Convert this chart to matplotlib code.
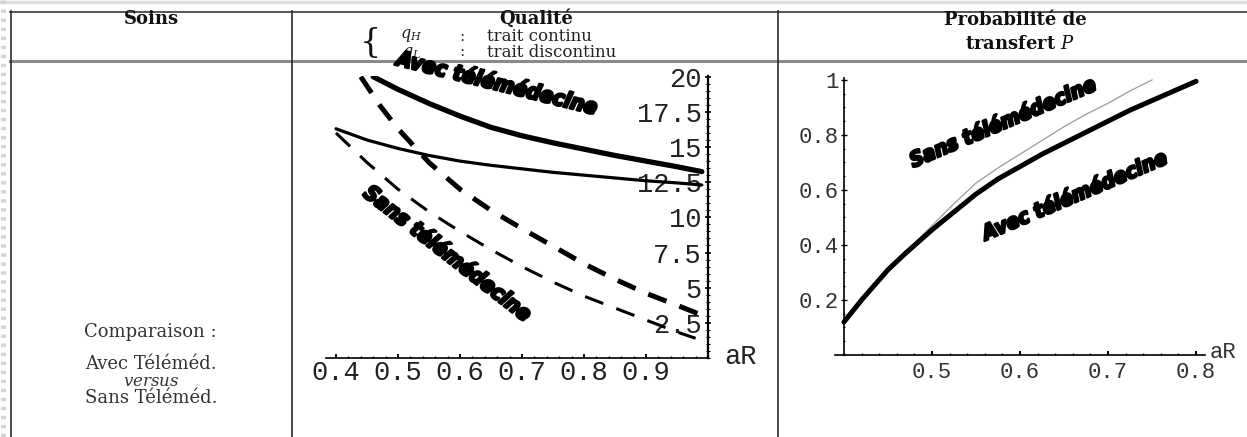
import matplotlib
matplotlib.use("Agg")
import matplotlib.pyplot as plt
from matplotlib.lines import Line2D
from matplotlib.ticker import FixedLocator, FixedFormatter, MultipleLocator
from matplotlib import font_manager as fm
from matplotlib.textpath import TextPath
import matplotlib.patheffects as pe

plt.rcParams['mathtext.fontset'] = 'dejavuserif'
plt.rcParams['lines.scale_dashes'] = False

# ---------------- data ----------------
# Middle panel: quality vs aR
x_qh_avec = [0.46, 0.50, 0.55, 0.60, 0.65, 0.70, 0.75, 0.80, 0.85, 0.90, 0.95, 0.99]
y_qh_avec = [20.0, 19.1, 18.1, 17.2, 16.4, 15.8, 15.3, 14.85, 14.4, 14.0, 13.6, 13.25]

x_qh_sans = [0.40, 0.45, 0.50, 0.55, 0.60, 0.65, 0.70, 0.75, 0.80, 0.85, 0.90, 0.95, 0.99]
y_qh_sans = [16.3, 15.5, 14.9, 14.4, 14.0, 13.7, 13.45, 13.2, 13.0, 12.8, 12.6, 12.45, 12.3]

x_qb_avec = [0.44, 0.47, 0.50, 0.55, 0.60, 0.65, 0.70, 0.75, 0.80, 0.85, 0.90, 0.95, 0.99]
y_qb_avec = [20.0, 18.0, 16.3, 13.9, 12.0, 10.5, 9.2, 7.95, 6.7, 5.6, 4.6, 3.75, 3.05]

x_qb_sans = [0.40, 0.45, 0.50, 0.55, 0.60, 0.65, 0.70, 0.75, 0.80, 0.85, 0.90, 0.95, 0.98]
y_qb_sans = [16.0, 13.9, 12.0, 10.4, 9.0, 7.7, 6.5, 5.4, 4.4, 3.55, 2.7, 1.85, 1.4]

mid_xticks = [0.4, 0.5, 0.6, 0.7, 0.8, 0.9]
mid_xlabels = ["0.4", "0.5", "0.6", "0.7", "0.8", "0.9"]
mid_yticks = [2.5, 5, 7.5, 10, 12.5, 15, 17.5, 20]
mid_ylabels = ["2.5", "5", "7.5", "10", "12.5", "15", "17.5", "20"]

# Right panel: transfer probability vs aR
x_p_avec = [0.40, 0.42, 0.45, 0.47, 0.50, 0.525, 0.55, 0.575, 0.60, 0.625, 0.65, 0.675, 0.70, 0.725, 0.75, 0.775, 0.80]
y_p_avec = [0.12, 0.20, 0.31, 0.37, 0.455, 0.52, 0.585, 0.64, 0.685, 0.73, 0.77, 0.81, 0.85, 0.89, 0.925, 0.96, 0.995]

x_p_sans = [0.40, 0.42, 0.45, 0.47, 0.50, 0.525, 0.55, 0.575, 0.60, 0.625, 0.65, 0.675, 0.70, 0.725, 0.75]
y_p_sans = [0.12, 0.20, 0.31, 0.375, 0.47, 0.55, 0.625, 0.68, 0.73, 0.78, 0.83, 0.875, 0.915, 0.96, 1.0]

right_xticks = [0.5, 0.6, 0.7, 0.8]
right_xlabels = ["0.5", "0.6", "0.7", "0.8"]
right_yticks = [0.2, 0.4, 0.6, 0.8, 1.0]
right_ylabels = ["0.2", "0.4", "0.6", "0.8", "1"]

# ---------------- fonts ----------------
def find_condensed_bold_italic():
    best = None
    for f in fm.fontManager.ttflist:
        name = (f.fname.split("/")[-1]).lower()
        if ("narrow" in name or "condensed" in name or "cond" in name) and "bold" in name and \
                ("italic" in name or "oblique" in name) and "semi" not in name and "extra" not in name:
            prio = 0 if "narrow" in name else 1
            if best is None or prio < best[0]:
                best = (prio, f.fname)
    if best is not None:
        return fm.FontProperties(fname=best[1]), True
    return fm.FontProperties(family=["Roboto", "Liberation Sans", "DejaVu Sans"],
                             weight="bold", style="italic"), False


lab_fp, condensed = find_condensed_bold_italic()
stretch = 1.2 if condensed else 1.25


def fit_size(s, target_px):
    w = TextPath((0, 0), s, size=10, prop=lab_fp).get_extents().width
    return 10 * target_px * stretch * 72.0 / (100.0 * w)


# ---------------- figure ----------------
W, H = 1247, 437
fig = plt.figure(figsize=(W / 100, H / 100), dpi=100)
fig.patch.set_facecolor("white")


def fx(px):
    return px / W


def fy(py):
    return 1 - py / H


def hline(y, x0, x1, **kw):
    fig.add_artist(Line2D([fx(x0), fx(x1)], [fy(y), fy(y)], **kw))


def vline(x, y0, y1, **kw):
    fig.add_artist(Line2D([fx(x), fx(x)], [fy(y0), fy(y1)], **kw))


# window artefacts
hline(1.5, 0, W, color="#dcdcdc", lw=2.5)
vline(3, 0, H, color="#d4d4d4", lw=3.5, dashes=(2.5, 4))

# table grid
hline(11.5, 10, W, color="#3a3a3a", lw=1.2)
hline(61, 10, W, color="#8a8a8a", lw=2.2)
vline(10.5, 11, H, color="#2a2a2a", lw=1.2)
vline(292, 11, H, color="#2a2a2a", lw=1.2)
vline(778, 11, H, color="#2a2a2a", lw=1.2)

serif = "DejaVu Serif"

# header texts
fig.text(fx(151), fy(19), "Soins", family=serif, weight="bold", fontsize=13, ha="center", va="center", color="#111")
fig.text(fx(536), fy(19), "Qualité", family=serif, weight="bold", fontsize=13, ha="center", va="center", color="#111")
fig.text(fx(370), fy(43), "{", family=serif, fontsize=24, ha="center", va="center", color="#111")
fig.text(fx(411), fy(44.5), "$q_H$\n$q_L$", fontsize=11.5, ha="center", va="center",
         linespacing=1.0, color="#222")
fig.text(fx(462), fy(44.5), ":\n:", family=serif, fontsize=11, ha="center", va="center",
         linespacing=1.05, color="#222")
fig.text(fx(487), fy(44.5), "trait continu\ntrait discontinu", family=serif, fontsize=12,
         ha="left", va="center", linespacing=0.95, color="#222")
fig.text(fx(1015), fy(20), "Probabilité de", family=serif, weight="bold", fontsize=13,
         ha="center", va="center", color="#111")
fig.text(fx(1020), fy(44), r"transfert $P$", family=serif, weight="bold", fontsize=13,
         ha="center", va="center", color="#111")

# left column
fig.text(fx(150), fy(332), "Comparaison :", family=serif, fontsize=13, ha="center", va="center", color="#333")
fig.text(fx(151), fy(364), "Avec Téléméd.", family=serif, fontsize=13, ha="center", va="center", color="#333")
fig.text(fx(151), fy(381), r"$\mathit{versus}$", fontsize=12, ha="center", va="center", color="#333")
fig.text(fx(151), fy(398), "Sans Téléméd.", family=serif, fontsize=13, ha="center", va="center", color="#333")

mono = ["Liberation Mono", "DejaVu Sans Mono"]
halo = [pe.withStroke(linewidth=1.8, foreground="black")]

# ---------------- middle panel ----------------
axm = fig.add_axes([fx(326), fy(358), fx(708) - fx(326), fy(76) - fy(358)])
axm.set_xlim(0.3839, 1.0)
axm.set_ylim(0, 20.05)
axm.patch.set_alpha(0)
for s in ("top", "right"):
    axm.spines[s].set_visible(False)
axm.spines["left"].set_position(("axes", 1.0))
axm.spines["left"].set_linewidth(1.6)
axm.spines["bottom"].set_linewidth(1.2)
axm.xaxis.set_major_locator(FixedLocator(mid_xticks))
axm.xaxis.set_major_formatter(FixedFormatter(mid_xlabels))
axm.xaxis.set_minor_locator(MultipleLocator(0.02))
axm.yaxis.set_major_locator(FixedLocator(mid_yticks))
axm.yaxis.set_major_formatter(FixedFormatter(mid_ylabels))
axm.yaxis.set_minor_locator(MultipleLocator(0.5))
axm.tick_params(axis="x", which="major", direction="in", length=3, width=1.4, pad=1.5)
axm.tick_params(axis="x", which="minor", direction="in", length=1.5, width=1.0)
axm.tick_params(axis="y", which="major", direction="inout", length=5, width=1.2, pad=2)
axm.tick_params(axis="y", which="minor", direction="inout", length=2.5, width=0.8)
for lab in axm.get_xticklabels() + axm.get_yticklabels():
    lab.set_family(mono)
    lab.set_fontsize(19.5)
    lab.set_color("#222")

axm.plot(x_qh_avec, y_qh_avec, color="black", lw=3.8, solid_capstyle="round")
axm.plot(x_qh_sans, y_qh_sans, color="black", lw=2.3, solid_capstyle="round")
axm.plot(x_qb_avec, y_qb_avec, color="black", lw=3.6, dashes=(14, 10))
axm.plot(x_qb_sans, y_qb_sans, color="black", lw=2.2, dashes=(14, 10))

s1 = "Avec télémédecine"
s2 = "Sans télémédecine"
fig.text(fx(497), fy(84), s1, fontproperties=lab_fp, fontsize=fit_size(s1, 172),
         rotation=-14, rotation_mode="anchor", ha="center", va="center",
         color="black", path_effects=halo)
fig.text(fx(447), fy(254), s2, fontproperties=lab_fp, fontsize=fit_size(s2, 171),
         rotation=-38, rotation_mode="anchor", ha="center", va="center",
         color="black", path_effects=halo)
fig.text(fx(741), fy(357), "aR", family=mono, fontsize=19.5, ha="center", va="center", color="#222")

# ---------------- right panel ----------------
axr = fig.add_axes([fx(835), fy(355), fx(1205) - fx(835), fy(78) - fy(355)])
axr.set_xlim(0.3898, 0.8102)
axr.set_ylim(0, 1.007)
axr.patch.set_alpha(0)
for s in ("top", "right"):
    axr.spines[s].set_visible(False)
axr.spines["left"].set_position(("data", 0.4))
axr.spines["left"].set_linewidth(1.2)
axr.spines["bottom"].set_linewidth(1.2)
axr.xaxis.set_major_locator(FixedLocator(right_xticks))
axr.xaxis.set_major_formatter(FixedFormatter(right_xlabels))
axr.xaxis.set_minor_locator(MultipleLocator(0.02))
axr.yaxis.set_major_locator(FixedLocator(right_yticks))
axr.yaxis.set_major_formatter(FixedFormatter(right_ylabels))
axr.yaxis.set_minor_locator(MultipleLocator(0.05))
axr.tick_params(axis="x", which="major", direction="in", length=3, width=1.4, pad=5)
axr.tick_params(axis="x", which="minor", direction="in", length=1.5, width=1.0)
axr.tick_params(axis="y", which="major", direction="inout", length=4, width=1.0, pad=2)
axr.tick_params(axis="y", which="minor", direction="inout", length=2, width=0.8)
for lab in axr.get_xticklabels() + axr.get_yticklabels():
    lab.set_family(mono)
    lab.set_fontsize(16)
    lab.set_color("#333")

axr.plot(x_p_sans, y_p_sans, color="#9a9a9a", lw=0.9)
axr.plot(x_p_avec, y_p_avec, color="black", lw=3.6, solid_capstyle="round")

fig.text(fx(1003), fy(123), s2, fontproperties=lab_fp, fontsize=fit_size(s2, 166),
         rotation=23, rotation_mode="anchor", ha="center", va="center",
         color="black", path_effects=halo)
fig.text(fx(1075), fy(196), s1, fontproperties=lab_fp, fontsize=fit_size(s1, 166),
         rotation=23, rotation_mode="anchor", ha="center", va="center",
         color="black", path_effects=halo)
fig.text(fx(1210), fy(352), "aR", family=mono, fontsize=16, ha="left", va="center", color="#333")

fig.savefig("out.png", dpi=100)
